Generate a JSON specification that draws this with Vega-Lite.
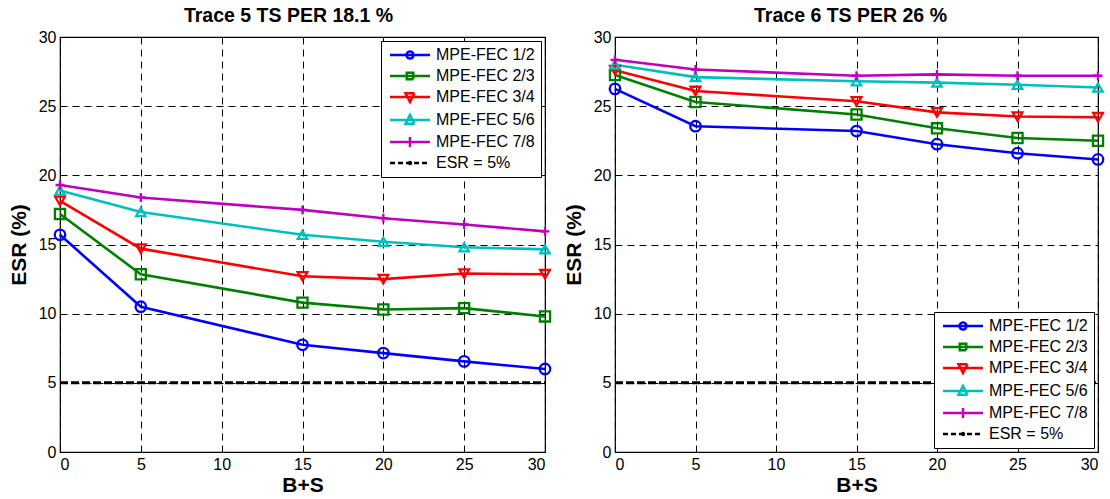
{
  "$schema": "https://vega.github.io/schema/vega-lite/v6.json",
  "background": "white",
  "padding": {"left": 7, "top": 4, "right": 2, "bottom": 2},
  "spacing": 6,
  "config": {
    "font": "Liberation Sans",
    "view": {"stroke": "black", "strokeWidth": 1.2},
    "axis": {
      "domain": false,
      "ticks": false,
      "grid": true,
      "gridColor": "black",
      "gridOpacity": 1,
      "gridWidth": 1,
      "gridDash": [7, 5],
      "labelFont": "Liberation Sans",
      "labelFontSize": 16,
      "labelColor": "black",
      "labelPadding": 4,
      "titleFont": "Liberation Sans",
      "titleFontSize": 21,
      "titleFontWeight": "bold",
      "titleColor": "black"
    },
    "axisX": {"titlePadding": 2},
    "axisY": {"titlePadding": 9},
    "title": {"font": "Liberation Sans", "fontSize": 19.5, "fontWeight": "bold", "color": "black", "offset": 3},
    "legend": {
      "title": null,
      "strokeColor": "black",
      "fillColor": "white",
      "cornerRadius": 0,
      "padding": 6,
      "offset": 4,
      "labelFont": "Liberation Sans",
      "labelFontSize": 16,
      "labelColor": "black",
      "labelLimit": 220,
      "labelOffset": 33,
      "rowPadding": 3,
      "symbolSize": 100,
      "symbolStrokeWidth": 2.5
    }
  },
  "datasets": {
    "trace5": [
      {"series": "MPE-FEC 1/2", "bs": 0, "esr": 15.7},
      {"series": "MPE-FEC 1/2", "bs": 5, "esr": 10.5},
      {"series": "MPE-FEC 1/2", "bs": 15, "esr": 7.75},
      {"series": "MPE-FEC 1/2", "bs": 20, "esr": 7.15},
      {"series": "MPE-FEC 1/2", "bs": 25, "esr": 6.55},
      {"series": "MPE-FEC 1/2", "bs": 30, "esr": 6.0},
      {"series": "MPE-FEC 2/3", "bs": 0, "esr": 17.2},
      {"series": "MPE-FEC 2/3", "bs": 5, "esr": 12.85},
      {"series": "MPE-FEC 2/3", "bs": 15, "esr": 10.8},
      {"series": "MPE-FEC 2/3", "bs": 20, "esr": 10.3},
      {"series": "MPE-FEC 2/3", "bs": 25, "esr": 10.4},
      {"series": "MPE-FEC 2/3", "bs": 30, "esr": 9.8},
      {"series": "MPE-FEC 3/4", "bs": 0, "esr": 18.15},
      {"series": "MPE-FEC 3/4", "bs": 5, "esr": 14.7},
      {"series": "MPE-FEC 3/4", "bs": 15, "esr": 12.7},
      {"series": "MPE-FEC 3/4", "bs": 20, "esr": 12.5},
      {"series": "MPE-FEC 3/4", "bs": 25, "esr": 12.9},
      {"series": "MPE-FEC 3/4", "bs": 30, "esr": 12.85},
      {"series": "MPE-FEC 5/6", "bs": 0, "esr": 18.9},
      {"series": "MPE-FEC 5/6", "bs": 5, "esr": 17.35},
      {"series": "MPE-FEC 5/6", "bs": 15, "esr": 15.7},
      {"series": "MPE-FEC 5/6", "bs": 20, "esr": 15.2},
      {"series": "MPE-FEC 5/6", "bs": 25, "esr": 14.8},
      {"series": "MPE-FEC 5/6", "bs": 30, "esr": 14.65},
      {"series": "MPE-FEC 7/8", "bs": 0, "esr": 19.3},
      {"series": "MPE-FEC 7/8", "bs": 5, "esr": 18.4},
      {"series": "MPE-FEC 7/8", "bs": 15, "esr": 17.5},
      {"series": "MPE-FEC 7/8", "bs": 20, "esr": 16.9},
      {"series": "MPE-FEC 7/8", "bs": 25, "esr": 16.45},
      {"series": "MPE-FEC 7/8", "bs": 30, "esr": 15.95},
      {"series": "ESR = 5%", "bs": 0, "esr": 5},
      {"series": "ESR = 5%", "bs": 5, "esr": 5},
      {"series": "ESR = 5%", "bs": 15, "esr": 5},
      {"series": "ESR = 5%", "bs": 20, "esr": 5},
      {"series": "ESR = 5%", "bs": 25, "esr": 5},
      {"series": "ESR = 5%", "bs": 30, "esr": 5}
    ],
    "trace6": [
      {"series": "MPE-FEC 1/2", "bs": 0, "esr": 26.25},
      {"series": "MPE-FEC 1/2", "bs": 5, "esr": 23.55},
      {"series": "MPE-FEC 1/2", "bs": 15, "esr": 23.2},
      {"series": "MPE-FEC 1/2", "bs": 20, "esr": 22.25},
      {"series": "MPE-FEC 1/2", "bs": 25, "esr": 21.6},
      {"series": "MPE-FEC 1/2", "bs": 30, "esr": 21.15},
      {"series": "MPE-FEC 2/3", "bs": 0, "esr": 27.25},
      {"series": "MPE-FEC 2/3", "bs": 5, "esr": 25.3},
      {"series": "MPE-FEC 2/3", "bs": 15, "esr": 24.4},
      {"series": "MPE-FEC 2/3", "bs": 20, "esr": 23.4},
      {"series": "MPE-FEC 2/3", "bs": 25, "esr": 22.7},
      {"series": "MPE-FEC 2/3", "bs": 30, "esr": 22.5},
      {"series": "MPE-FEC 3/4", "bs": 0, "esr": 27.6},
      {"series": "MPE-FEC 3/4", "bs": 5, "esr": 26.1},
      {"series": "MPE-FEC 3/4", "bs": 15, "esr": 25.35},
      {"series": "MPE-FEC 3/4", "bs": 20, "esr": 24.55},
      {"series": "MPE-FEC 3/4", "bs": 25, "esr": 24.25},
      {"series": "MPE-FEC 3/4", "bs": 30, "esr": 24.2},
      {"series": "MPE-FEC 5/6", "bs": 0, "esr": 28.0},
      {"series": "MPE-FEC 5/6", "bs": 5, "esr": 27.1},
      {"series": "MPE-FEC 5/6", "bs": 15, "esr": 26.8},
      {"series": "MPE-FEC 5/6", "bs": 20, "esr": 26.7},
      {"series": "MPE-FEC 5/6", "bs": 25, "esr": 26.55},
      {"series": "MPE-FEC 5/6", "bs": 30, "esr": 26.35},
      {"series": "MPE-FEC 7/8", "bs": 0, "esr": 28.35},
      {"series": "MPE-FEC 7/8", "bs": 5, "esr": 27.65},
      {"series": "MPE-FEC 7/8", "bs": 15, "esr": 27.2},
      {"series": "MPE-FEC 7/8", "bs": 20, "esr": 27.3},
      {"series": "MPE-FEC 7/8", "bs": 25, "esr": 27.2},
      {"series": "MPE-FEC 7/8", "bs": 30, "esr": 27.2},
      {"series": "ESR = 5%", "bs": 0, "esr": 5},
      {"series": "ESR = 5%", "bs": 5, "esr": 5},
      {"series": "ESR = 5%", "bs": 15, "esr": 5},
      {"series": "ESR = 5%", "bs": 20, "esr": 5},
      {"series": "ESR = 5%", "bs": 25, "esr": 5},
      {"series": "ESR = 5%", "bs": 30, "esr": 5}
    ]
  },
  "hconcat": [
    {
      "width": 485,
      "height": 415,
      "title": {"text": "Trace 5 TS PER 18.1 %", "dx": -14},
      "data": {"name": "trace5"},
      "encoding": {
        "x": {"field": "bs", "type": "quantitative", "title": "B+S",
              "scale": {"domain": [0, 30], "nice": false},
              "axis": {"values": [0, 5, 10, 15, 20, 25, 30]}},
        "y": {"field": "esr", "type": "quantitative", "title": "ESR (%)",
              "scale": {"domain": [0, 30], "nice": false},
              "axis": {"values": [0, 5, 10, 15, 20, 25, 30]}},
        "color": {
          "field": "series", "type": "nominal",
          "scale": {
            "domain": ["MPE-FEC 1/2", "MPE-FEC 2/3", "MPE-FEC 3/4", "MPE-FEC 5/6", "MPE-FEC 7/8", "ESR = 5%"],
            "range": ["#0000ff", "#008000", "#ff0000", "#00bfbf", "#bf00bf", "#000000"]
          },
          "legend": {
            "orient": "top-right",
            "encode": {
              "symbols": {
                "update": {
                  "shape": {"signal": "datum.value == 'MPE-FEC 1/2' ? 'M-1,0H7M2.3,0A0.7,0.7 0 1,0 3.7,0A0.7,0.7 0 1,0 2.3,0' : datum.value == 'MPE-FEC 2/3' ? 'M-1,0H7M2.35,-0.65H3.65V0.65H2.35Z' : datum.value == 'MPE-FEC 3/4' ? 'M-1,0H7M2.1,-0.75H3.9L3,1Z' : datum.value == 'MPE-FEC 5/6' ? 'M-1,0H7M2.1,0.75H3.9L3,-1Z' : datum.value == 'MPE-FEC 7/8' ? 'M-1,0H7M2,0H4M3,-1V1' : 'M-1,0H7M2.8,0A0.2,0.2 0 1,0 3.2,0A0.2,0.2 0 1,0 2.8,0'"},
                  "strokeDash": {"signal": "datum.value == 'ESR = 5%' ? [5, 3] : [1, 0]"},
                  "fill": {"value": "transparent"}
                }
              }
            }
          }
        }
      },
      "layer": [
        {
          "transform": [{"filter": "datum.series == 'ESR = 5%'"}],
          "mark": {"type": "line", "strokeWidth": 3, "strokeDash": [8, 3]}
        },
        {
          "transform": [{"filter": "datum.series != 'ESR = 5%'"}],
          "mark": {"type": "line", "strokeWidth": 2.6}
        },
        {
          "transform": [{"filter": "datum.series != 'ESR = 5%'"}],
          "mark": {"type": "point", "filled": false, "strokeWidth": 2.3, "opacity": 1},
          "encoding": {
            "shape": {
              "field": "series", "type": "nominal", "legend": null,
              "scale": {
                "domain": ["MPE-FEC 1/2", "MPE-FEC 2/3", "MPE-FEC 3/4", "MPE-FEC 5/6", "MPE-FEC 7/8"],
                "range": ["circle", "square", "triangle-down", "triangle-up", "M-1,0H1M0,-1V1"]
              }
            },
            "size": {
              "field": "series", "type": "nominal", "legend": null,
              "scale": {
                "domain": ["MPE-FEC 1/2", "MPE-FEC 2/3", "MPE-FEC 3/4", "MPE-FEC 5/6", "MPE-FEC 7/8"],
                "range": [110, 80, 160, 160, 150]
              }
            }
          }
        }
      ]
    },
    {
      "width": 483,
      "height": 415,
      "title": {"text": "Trace 6 TS PER 26 %", "dx": -6},
      "data": {"name": "trace6"},
      "encoding": {
        "x": {"field": "bs", "type": "quantitative", "title": "B+S",
              "scale": {"domain": [0, 30], "nice": false},
              "axis": {"values": [0, 5, 10, 15, 20, 25, 30]}},
        "y": {"field": "esr", "type": "quantitative", "title": "ESR (%)",
              "scale": {"domain": [0, 30], "nice": false},
              "axis": {"values": [0, 5, 10, 15, 20, 25, 30]}},
        "color": {
          "field": "series", "type": "nominal",
          "scale": {
            "domain": ["MPE-FEC 1/2", "MPE-FEC 2/3", "MPE-FEC 3/4", "MPE-FEC 5/6", "MPE-FEC 7/8", "ESR = 5%"],
            "range": ["#0000ff", "#008000", "#ff0000", "#00bfbf", "#bf00bf", "#000000"]
          },
          "legend": {
            "orient": "bottom-right",
            "encode": {
              "symbols": {
                "update": {
                  "shape": {"signal": "datum.value == 'MPE-FEC 1/2' ? 'M-1,0H7M2.3,0A0.7,0.7 0 1,0 3.7,0A0.7,0.7 0 1,0 2.3,0' : datum.value == 'MPE-FEC 2/3' ? 'M-1,0H7M2.35,-0.65H3.65V0.65H2.35Z' : datum.value == 'MPE-FEC 3/4' ? 'M-1,0H7M2.1,-0.75H3.9L3,1Z' : datum.value == 'MPE-FEC 5/6' ? 'M-1,0H7M2.1,0.75H3.9L3,-1Z' : datum.value == 'MPE-FEC 7/8' ? 'M-1,0H7M2,0H4M3,-1V1' : 'M-1,0H7M2.8,0A0.2,0.2 0 1,0 3.2,0A0.2,0.2 0 1,0 2.8,0'"},
                  "strokeDash": {"signal": "datum.value == 'ESR = 5%' ? [5, 3] : [1, 0]"},
                  "fill": {"value": "transparent"}
                }
              }
            }
          }
        }
      },
      "layer": [
        {
          "transform": [{"filter": "datum.series == 'ESR = 5%'"}],
          "mark": {"type": "line", "strokeWidth": 3, "strokeDash": [8, 3]}
        },
        {
          "transform": [{"filter": "datum.series != 'ESR = 5%'"}],
          "mark": {"type": "line", "strokeWidth": 2.6}
        },
        {
          "transform": [{"filter": "datum.series != 'ESR = 5%'"}],
          "mark": {"type": "point", "filled": false, "strokeWidth": 2.3, "opacity": 1},
          "encoding": {
            "shape": {
              "field": "series", "type": "nominal", "legend": null,
              "scale": {
                "domain": ["MPE-FEC 1/2", "MPE-FEC 2/3", "MPE-FEC 3/4", "MPE-FEC 5/6", "MPE-FEC 7/8"],
                "range": ["circle", "square", "triangle-down", "triangle-up", "M-1,0H1M0,-1V1"]
              }
            },
            "size": {
              "field": "series", "type": "nominal", "legend": null,
              "scale": {
                "domain": ["MPE-FEC 1/2", "MPE-FEC 2/3", "MPE-FEC 3/4", "MPE-FEC 5/6", "MPE-FEC 7/8"],
                "range": [110, 80, 160, 160, 150]
              }
            }
          }
        }
      ]
    }
  ]
}
